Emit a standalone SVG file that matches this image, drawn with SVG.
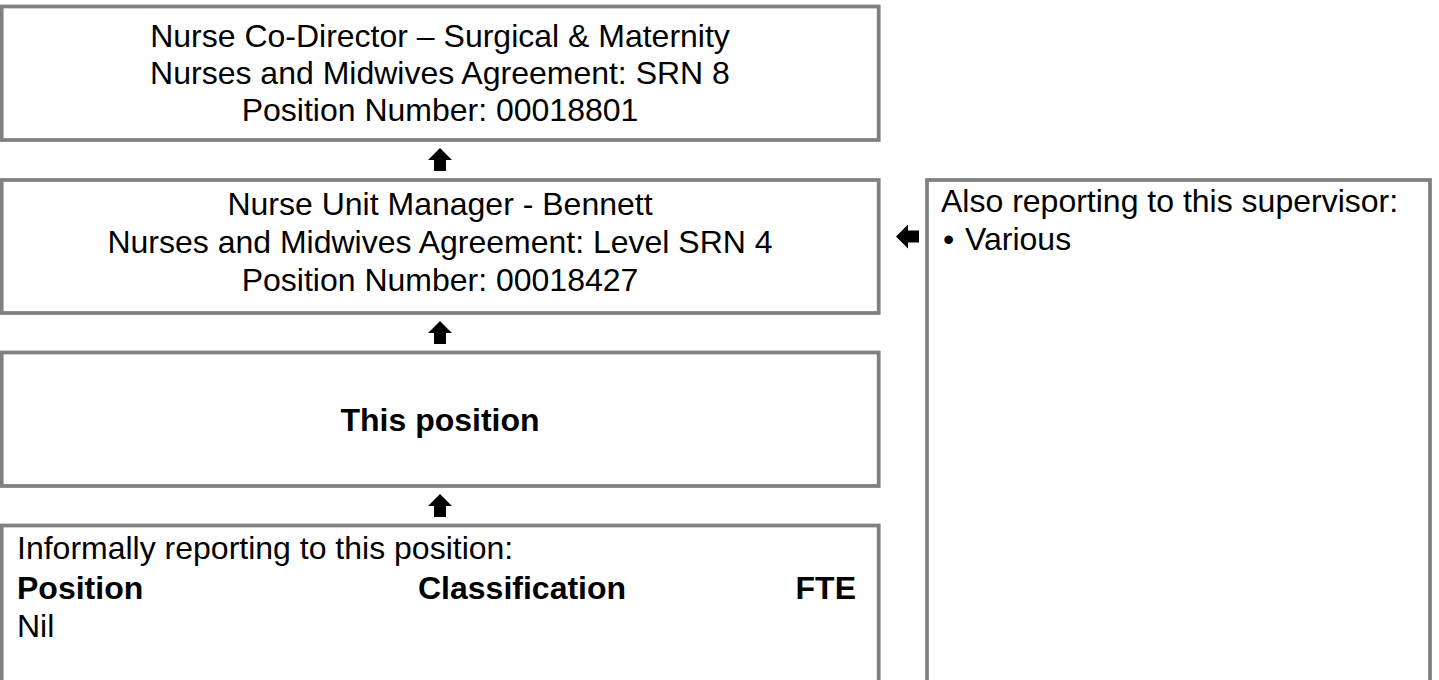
<svg xmlns="http://www.w3.org/2000/svg" width="1439" height="680" viewBox="0 0 1439 680">
<style>
.box{fill:#fff;stroke:#808080;stroke-width:3.75}
text{font-family:"Liberation Sans",Arial,sans-serif;font-size:32px;fill:#000}
.c{text-anchor:middle}
.b{font-weight:bold}
.arr{fill:#000}
</style>
<rect width="1439" height="680" fill="#fff"/>
<g id="n-codirector">
<rect class="box" x="1.7" y="6.5" width="877" height="133.5"/>
<text class="c" x="440" y="47">Nurse Co-Director – Surgical &amp; Maternity</text>
<text class="c" x="440" y="84">Nurses and Midwives Agreement: SRN 8</text>
<text class="c" x="440" y="121">Position Number: 00018801</text>
</g>
<g id="n-num">
<rect class="box" x="1.7" y="180" width="877" height="133"/>
<text class="c" x="440" y="215">Nurse Unit Manager - Bennett</text>
<text class="c" x="440" y="253">Nurses and Midwives Agreement: Level SRN 4</text>
<text class="c" x="440" y="291">Position Number: 00018427</text>
</g>
<g id="n-this">
<rect class="box" x="1.7" y="352.5" width="877" height="133.5"/>
<text class="c b" x="440" y="431">This position</text>
</g>
<g id="n-informal">
<rect class="box" x="1.7" y="525.5" width="877" height="170"/>
<text x="17" y="559">Informally reporting to this position:</text>
<text class="b" x="17" y="599">Position</text>
<text class="b" x="418" y="599">Classification</text>
<text class="b" x="856" y="599" text-anchor="end">FTE</text>
<text x="17" y="637">Nil</text>
</g>
<g id="n-also">
<rect class="box" x="927" y="180" width="503" height="520"/>
<text x="941" y="212">Also reporting to this supervisor:</text>
<text x="943" y="250">•</text>
<text x="965" y="250">Various</text>
</g>
<g id="connectors">
<path class="arr" d="M440 148 L452 160 L446 160 L446 171 L434 171 L434 160 L428 160 Z"/>
<path class="arr" d="M440 321 L452 333 L446 333 L446 344 L434 344 L434 333 L428 333 Z"/>
<path class="arr" d="M440 494 L452 506 L446 506 L446 517 L434 517 L434 506 L428 506 Z"/>
<path class="arr" d="M896 236.5 L908 224.5 L908 230.5 L919 230.5 L919 242.5 L908 242.5 L908 248.5 Z"/>
</g>
</svg>
